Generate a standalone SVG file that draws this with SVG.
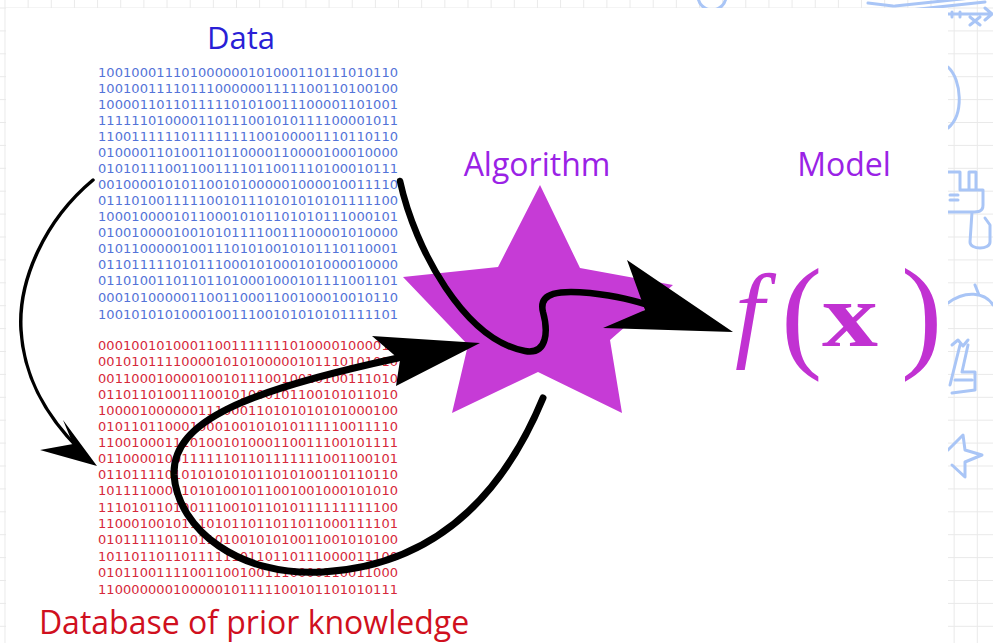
<svg xmlns="http://www.w3.org/2000/svg" width="993" height="643" viewBox="0 0 993 643">
  <defs>
    <pattern id="grid" x="4.5" y="7.5" width="23.15" height="22.9" patternUnits="userSpaceOnUse">
      <path d="M0 0 V22.9 M0 0 H23.15" fill="none" stroke="#e9e9e9" stroke-width="2"/>
    </pattern>
    <style>
      .bin { font-family: "DejaVu Sans", sans-serif; font-size: 13px; }
      .blue { fill: #5373d8; }
      .red { fill: #d6283a; }
      .title { font-family: "Open Sans", "Noto Sans", sans-serif; }
      .deco { fill: none; stroke: #a9c5f6; stroke-width: 3; stroke-linecap: round; stroke-linejoin: round; }
      .arr { fill: none; stroke: #000; stroke-linecap: round; }
      .math { font-family: "Liberation Serif", serif; fill: #c132d2; }
    </style>
  </defs>

  <!-- background grid -->
  <rect x="0" y="0" width="993" height="643" fill="#ffffff"/>
  <rect x="0" y="0" width="993" height="643" fill="url(#grid)"/>

  <!-- edge decorations -->
  <g id="decorations">
    <circle cx="712" cy="-4" r="14" class="deco"/>
    <path class="deco" d="M868 3 L893 6 M895 6 L990 -4 M910 10 L985 2 M948 14 L992 14 M985 8 L992 14 L985 20 M952 12 L952 17 M960 12 L960 17 M970 17 L980 25 M980 17 L970 25"/>
    <path class="deco" d="M948 67 C962 80 964 115 948 128"/>
    <path class="deco" d="M948 172 L960 172 L960 190 L983 190 L983 205 C983 212 978 212 972 212 L948 212 M969 190 L969 172 L976 172 L976 190 M950 195 L958 195 M950 200 L958 200 M972 212 L970 242 C970 250 990 250 990 242 L990 225 L985 218"/>
    <path class="deco" d="M948 303 C965 290 985 292 993 305 M975 285 L979 295"/>
    <path class="deco" d="M952 345 L958 340 L963 346 L968 340 M960 345 L950 385 M968 345 L962 372 L975 372 L975 390 L952 393 M955 380 L972 380"/>
    <path class="deco" d="M948 450 L963 435 L965 450 L982 455 L965 462 L965 477 L952 465"/>
  </g>

  <!-- white panel -->
  <rect x="6" y="8" width="942" height="640" fill="#ffffff"/>

  <!-- Data block -->
  <g id="data">
    <text class="title" x="241" y="49" font-size="31" fill="#2a1fd6" text-anchor="middle">Data</text>
    <g class="bin blue">
      <text x="98" y="77" textLength="300">100100011101000000101000110111010110</text>
      <text x="98" y="93" textLength="300">100100111101110000001111100110100100</text>
      <text x="98" y="109" textLength="300">100001101101111101010011100001101001</text>
      <text x="98" y="125" textLength="300">111111010000110111001010111100001011</text>
      <text x="98" y="141" textLength="300">110011111101111111100100001110110110</text>
      <text x="98" y="157" textLength="300">010000110100110110000110000100010000</text>
      <text x="98" y="173" textLength="300">010101110011001111011001110100010111</text>
      <text x="98" y="189" textLength="300">001000010101100101000001000010011110</text>
      <text x="98" y="205" textLength="300">011101001111100101110101010101111100</text>
      <text x="98" y="221" textLength="300">100010000101100010101101010111000101</text>
      <text x="98" y="237" textLength="300">010010000100101011110011100001010000</text>
      <text x="98" y="253" textLength="300">010110000010011101010010101110110001</text>
      <text x="98" y="269" textLength="300">011011111010111000101000101000010000</text>
      <text x="98" y="285" textLength="300">011010011011011010001000101111001101</text>
      <text x="98" y="302" textLength="300">000101000001100110001100100010010110</text>
      <text x="98" y="319" textLength="300">100101010100010011100101010101111101</text>
    </g>
  </g>

  <!-- Database block -->
  <g id="database">
    <g class="bin red">
      <text x="98" y="350" textLength="300">000100101000110011111110100001000010</text>
      <text x="98" y="366" textLength="300">001010111100001010100000101110101010</text>
      <text x="98" y="383" textLength="300">001100010000100101110010010100111010</text>
      <text x="98" y="399" textLength="300">011011010011100101000101100101011010</text>
      <text x="98" y="415" textLength="300">100001000000111000110101010101000100</text>
      <text x="98" y="431" textLength="300">010110110001000100101010111110011110</text>
      <text x="98" y="447" textLength="300">110010001110100101000110011100101111</text>
      <text x="98" y="463" textLength="300">011000010011111101101111111001100101</text>
      <text x="98" y="479" textLength="300">011011110101010101011010100110110110</text>
      <text x="98" y="495" textLength="300">101111000110101001011001001000101010</text>
      <text x="98" y="512" textLength="300">111010110100111001011010111111111100</text>
      <text x="98" y="528" textLength="300">110001001011101011011011011000111101</text>
      <text x="98" y="544" textLength="300">010111110110110100101010011001010100</text>
      <text x="98" y="561" textLength="300">101101101101111110110110111000011100</text>
      <text x="98" y="577" textLength="300">010110011110011001001110000110011000</text>
      <text x="98" y="594" textLength="300">110000000100000101111100101101010111</text>
    </g>
    <text class="title" x="254" y="634" font-size="32" fill="#d0101e" text-anchor="middle">Database of prior knowledge</text>
  </g>

  <!-- Algorithm -->
  <g id="algorithm">
    <text class="title" x="537" y="176" font-size="32" fill="#9a22e6" text-anchor="middle">Algorithm</text>
    <polygon points="540,185 580,268 673,285 610,340 622,413 538,372 452,413 468,345 403,277 498,267" fill="#c63bd6"/>
  </g>

  <!-- Model -->
  <g id="model">
    <text class="title" x="844" y="176" font-size="32" fill="#9a22e6" text-anchor="middle">Model</text>
    <text class="math" x="735" y="347" font-size="105" font-style="italic">f</text>
    <text class="math" x="781" y="355" font-size="124">(</text>
    <text class="math" x="822" y="346" font-size="92" font-weight="bold" textLength="56" lengthAdjust="spacingAndGlyphs">x</text>
    <text class="math" x="901" y="355" font-size="124">)</text>
  </g>

  <!-- connectors -->
  <g id="connectors">
    <path class="arr" stroke-width="3.5" d="M93 180 C45 220 18 280 21 330 C24 380 48 418 80 450"/>
    <polygon points="63,420 97,466 40,450 73,444" fill="#000"/>

    <path class="arr" stroke-width="6.5" d="M400 181 C415 250 465 340 525 351 C548 355 548 330 543 312 C538 292 560 290 590 293 C615 296 635 300 650 306"/>
    <polygon points="627,260 733,332 603,328 645,310" fill="#000"/>

    <path class="arr" stroke-width="7" d="M543 398 C505 490 440 565 323 572 C240 577 178 530 174 475 C172 420 250 390 398 358"/>
    <polygon points="372,336 480,343 396,386 400,360" fill="#000"/>
  </g>
</svg>
